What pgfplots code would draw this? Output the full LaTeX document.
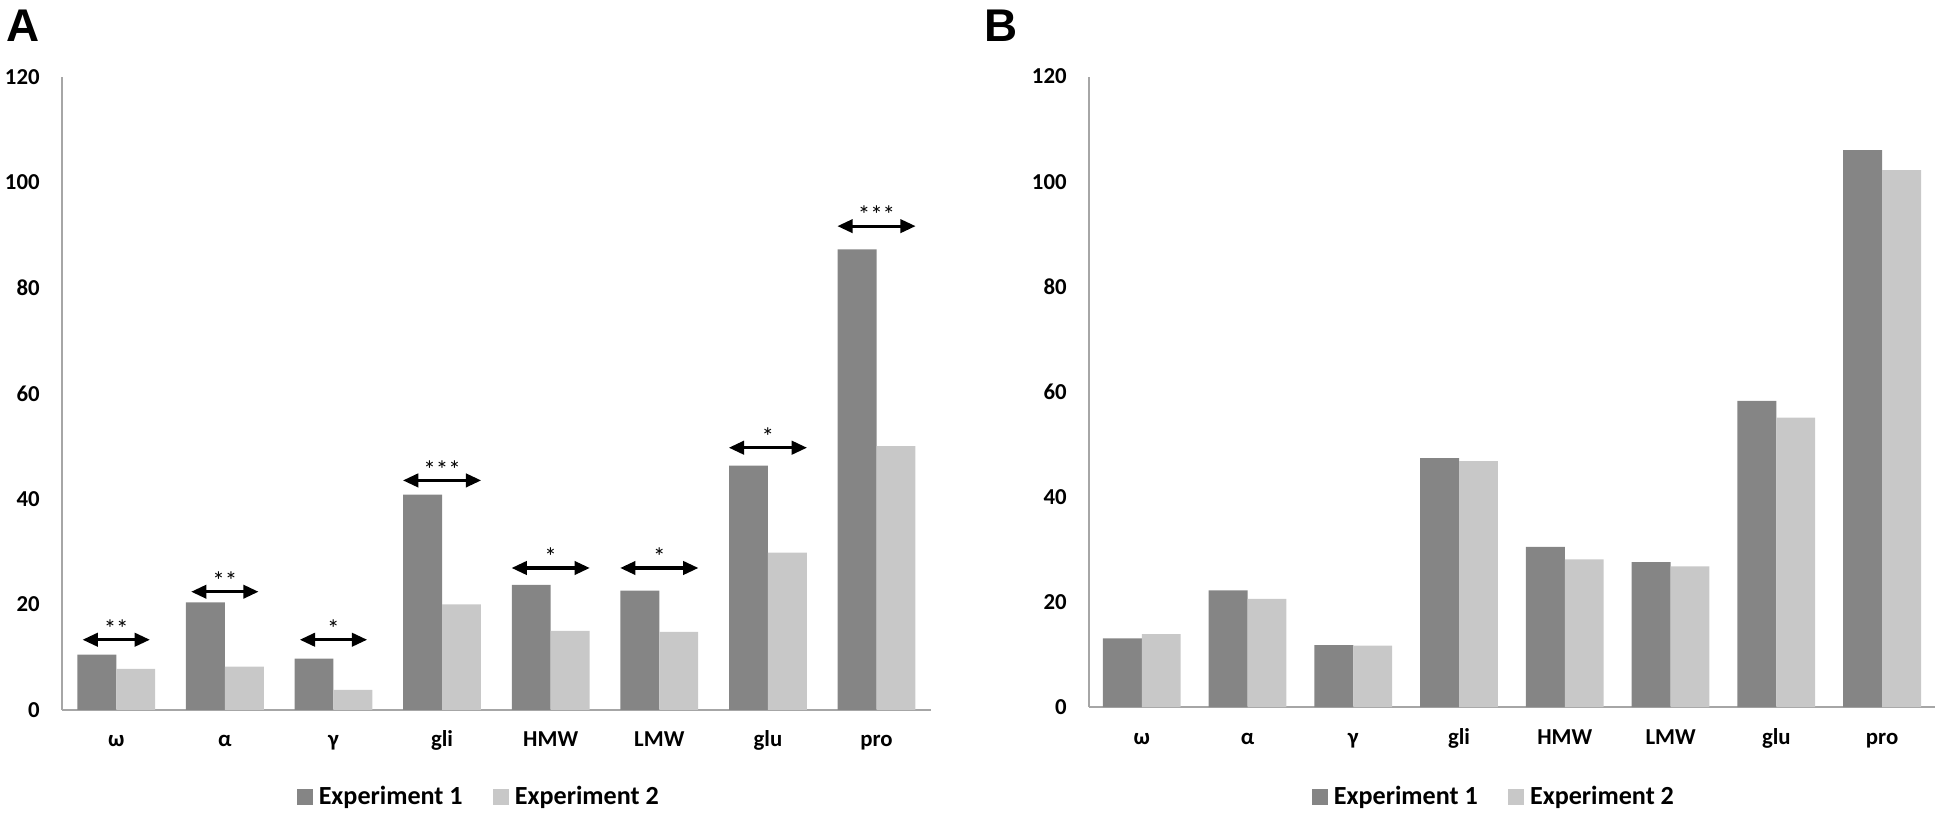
\documentclass[border=0pt]{standalone}
\usepackage{pgfplots}
\pgfplotsset{compat=1.18}
\usepackage{fontspec}
\setmainfont{Carlito}
\newfontfamily\panelfont{Liberation Sans}
\usetikzlibrary{arrows.meta}
\definecolor{darkbar}{HTML}{858585}
\definecolor{lightbar}{HTML}{C8C8C8}
\definecolor{axisgray}{HTML}{A6A6A6}

\pgfplotstableread{
x e1 e2
0 10.5 7.8
1 20.4 8.2
2 9.7 3.8
3 40.8 20.0
4 23.7 15.0
5 22.6 14.8
6 46.3 29.8
7 87.3 50.0
}\dataA

\pgfplotstableread{
x e1 e2
0 13.1 13.9
1 22.2 20.6
2 11.8 11.7
3 47.4 46.8
4 30.5 28.1
5 27.6 26.8
6 58.3 55.1
7 106.0 102.2
}\dataB

\pgfplotsset{
 panel/.style={
   scale only axis,
   ybar=0pt, bar width=14pt,
   ymin=0, ymax=120, ytick={0,20,...,120},
   xmin=-0.5, xmax=7.5, xtick={0,...,7},
   xticklabels={ω,α,γ,gli,HMW,LMW,glu,pro},
   axis x line*=bottom, axis y line*=left,
   axis line style={axisgray, line width=0.8pt, -},
   tick style={draw=none},
   major tick length=0pt,
   /pgf/number format/assume math mode=true,
   yticklabel style={font=\bfseries\fontsize{8.2}{9}\selectfont, xshift=-4.5pt, text=black},
   xticklabel style={font=\bfseries\fontsize{8.2}{9}\selectfont, anchor=base, yshift=-13.3pt},
   legend columns=2,
   legend style={draw=none, fill=none, font=\bfseries\fontsize{9.4}{10}\selectfont, anchor=center,
     /tikz/every even column/.append style={column sep=9pt}},
   legend image code/.code={\fill[##1] (0pt,-2.9pt) rectangle (5.8pt,2.9pt);},
   clip=false,
 },
}
\tikzset{
 sig/.style={{Triangle[length=5.5pt,width=4.8pt]}-{Triangle[length=5.5pt,width=4.8pt]}, line width=1.1pt, black},
 star/.style={midway, above, inner sep=0.3pt, font=\fontsize{9}{10}\selectfont},
}

\begin{document}
\begin{tikzpicture}
\path[use as bounding box] (0,0) rectangle (700.56pt,295.56pt);
\node[anchor=north west, inner sep=0pt, font=\panelfont\bfseries\fontsize{16.5}{18}\selectfont] at (2pt,292pt) {A};
\node[anchor=north west, inner sep=0pt, font=\panelfont\bfseries\fontsize{16.5}{18}\selectfont] at (354.2pt,292pt) {B};

\begin{axis}[panel, at={(22.3pt,40pt)}, anchor=south west, width=312.8pt, height=227.9pt,
  legend style={at={(0.482,-0.138)}}]
\addplot[fill=darkbar, draw=none] table[x=x, y=e1] {\dataA};
\addplot[fill=lightbar, draw=none] table[x=x, y=e2] {\dataA};
\legend{Experiment 1, Experiment 2}
\draw[sig] (axis cs:-0.31,13.3) -- (axis cs:0.31,13.3) node[star] {**};
\draw[sig] (axis cs:0.69,22.4) -- (axis cs:1.31,22.4) node[star] {**};
\draw[sig] (axis cs:1.69,13.3) -- (axis cs:2.31,13.3) node[star] {*};
\draw[sig] (axis cs:2.64,43.5) -- (axis cs:3.36,43.5) node[star] {***};
\draw[sig] (axis cs:3.64,26.9) -- (axis cs:4.36,26.9) node[star] {*};
\draw[sig] (axis cs:4.64,26.9) -- (axis cs:5.36,26.9) node[star] {*};
\draw[sig] (axis cs:5.64,49.7) -- (axis cs:6.36,49.7) node[star] {*};
\draw[sig] (axis cs:6.64,91.7) -- (axis cs:7.36,91.7) node[star] {***};
\end{axis}

\begin{axis}[panel, at={(392pt,41pt)}, anchor=south west, width=304.6pt, height=227pt,
  legend style={at={(0.481,-0.143)}}]
\addplot[fill=darkbar, draw=none] table[x=x, y=e1] {\dataB};
\addplot[fill=lightbar, draw=none] table[x=x, y=e2] {\dataB};
\legend{Experiment 1, Experiment 2}
\end{axis}
\end{tikzpicture}
\end{document}
